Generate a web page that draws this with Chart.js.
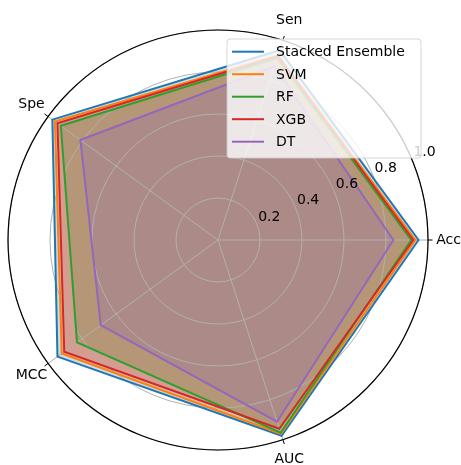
<!DOCTYPE html>
<html>
<head>
<meta charset="utf-8">
<script src="https://cdn.jsdelivr.net/npm/chart.js@4/dist/chart.umd.min.js"></script>
<style>
  html, body { margin: 0; padding: 0; background: #ffffff; }
  #wrap { width: 461px; height: 465px; }
</style>
</head>
<body>
<div id="wrap"><canvas id="c" width="461" height="465"></canvas></div>
<script>
// Evaluation metrics, counter-clockwise starting from the right
const metrics = ['Acc', 'Sen', 'Spe', 'MCC', 'AUC'];
const models = ['Stacked Ensemble', 'SVM', 'RF', 'XGB', 'DT'];

// Scores per model, in the order of `metrics`
const stackedEnsemble = [0.955, 0.95, 0.975, 0.945, 0.98];
const svm             = [0.94, 0.925, 0.96, 0.92, 0.97];
const rf              = [0.92, 0.91, 0.925, 0.83, 0.965];
const xgb             = [0.93, 0.92, 0.945, 0.905, 0.945];
const dt              = [0.835, 0.87, 0.81, 0.69, 0.91];

const radialTicks = [0.2, 0.4, 0.6, 0.8, 1.0];
const tickLabels = ['0.2', '0.4', '0.6', '0.8', '1.0'];

const seriesValues = [stackedEnsemble, svm, rf, xgb, dt];
const palette = ['#1f77b4', '#ff7f0e', '#2ca02c', '#d62728', '#9467bd'];

// Chart.js walks the axes clockwise; metrics go counter-clockwise,
// so keep the first one and reverse the rest.
const axisOrder = [0, 4, 3, 2, 1];
const reorder = arr => axisOrder.map(i => arr[i]);

function hexA(hex, a) {
  const n = parseInt(hex.slice(1), 16);
  return `rgba(${(n >> 16) & 255},${(n >> 8) & 255},${n & 255},${a})`;
}

// Later models are painted on top, so feed them to Chart.js first.
const datasets = models.map((name, k) => ({
  label: name,
  data: reorder(seriesValues[k]),
  borderColor: palette[k],
  backgroundColor: hexA(palette[k], 0.25),
  borderWidth: 2,
  pointRadius: 0,
  pointHoverRadius: 0,
  fill: true,
  tension: 0,
  borderJoinStyle: 'miter'
})).reverse();

const FONT = '14px "DejaVu Sans", sans-serif';

const polarDecor = {
  id: 'polarDecor',
  beforeDatasetsDraw(chart) {
    // grid sits above the filled areas but below the outlines
    const s = chart.scales.r;
    const ctx = chart.ctx;
    ctx.save();
    ctx.strokeStyle = '#b0b0b0';
    ctx.lineWidth = 1;
    radialTicks.forEach(v => {
      const r = s.getDistanceFromCenterForValue(v);
      ctx.beginPath();
      ctx.arc(s.xCenter, s.yCenter, r, 0, Math.PI * 2);
      ctx.stroke();
    });
    for (let i = 0; i < metrics.length; i++) {
      const p = s.getPointPositionForValue(i, 1);
      ctx.beginPath();
      ctx.moveTo(s.xCenter, s.yCenter);
      ctx.lineTo(p.x, p.y);
      ctx.stroke();
    }
    ctx.restore();
  },
  afterDatasetsDraw(chart) {
    const s = chart.scales.r;
    const ctx = chart.ctx;
    const R = s.getDistanceFromCenterForValue(1);
    const labels = chart.data.labels;
    ctx.save();

    // outer spine
    ctx.strokeStyle = '#000000';
    ctx.lineWidth = 1.2;
    ctx.beginPath();
    ctx.arc(s.xCenter, s.yCenter, R, 0, Math.PI * 2);
    ctx.stroke();

    // angular tick marks and metric names
    ctx.font = FONT;
    ctx.fillStyle = '#000000';
    ctx.textAlign = 'center';
    ctx.textBaseline = 'middle';
    for (let i = 0; i < labels.length; i++) {
      const a = s.getIndexAngle(i) - Math.PI / 2;
      const c = Math.cos(a), sn = Math.sin(a);
      ctx.lineWidth = 1;
      ctx.beginPath();
      ctx.moveTo(s.xCenter + c * R, s.yCenter + sn * R);
      ctx.lineTo(s.xCenter + c * (R + 4.5), s.yCenter + sn * (R + 4.5));
      ctx.stroke();
      const L = R + 20.5;
      ctx.fillText(labels[i], s.xCenter + c * L, s.yCenter + sn * L);
    }

    // radial tick labels along 22.5 degrees
    const ang = -22.5 * Math.PI / 180;
    radialTicks.forEach((v, k) => {
      const r = s.getDistanceFromCenterForValue(v);
      const x = s.xCenter + Math.cos(ang) * r + 12.5;
      const y = s.yCenter + Math.sin(ang) * r - 7;
      ctx.fillText(tickLabels[k], x, y);
    });

    // legend box
    const bx = 227, by = 39, bw = 194, bh = 119, rad = 3;
    ctx.beginPath();
    ctx.moveTo(bx + rad, by);
    ctx.arcTo(bx + bw, by, bx + bw, by + bh, rad);
    ctx.arcTo(bx + bw, by + bh, bx, by + bh, rad);
    ctx.arcTo(bx, by + bh, bx, by, rad);
    ctx.arcTo(bx, by, bx + bw, by, rad);
    ctx.closePath();
    ctx.fillStyle = 'rgba(255,255,255,0.8)';
    ctx.fill();
    ctx.strokeStyle = 'rgba(204,204,204,0.8)';
    ctx.lineWidth = 1;
    ctx.stroke();

    ctx.textAlign = 'left';
    models.forEach((name, k) => {
      const y = 51.7 + k * 22.5;
      ctx.strokeStyle = palette[k];
      ctx.lineWidth = 2;
      ctx.beginPath();
      ctx.moveTo(232, y);
      ctx.lineTo(264, y);
      ctx.stroke();
      ctx.fillStyle = '#000000';
      ctx.fillText(name, 276, y + 1);
    });
    ctx.restore();
  }
};

new Chart(document.getElementById('c'), {
  type: 'radar',
  data: { labels: reorder(metrics), datasets },
  options: {
    responsive: false,
    animation: false,
    devicePixelRatio: 1,
    layout: { padding: { left: 8, right: 33, top: 30, bottom: 15 } },
    plugins: {
      legend: { display: false },
      tooltip: { enabled: false },
      filler: { drawTime: 'beforeDatasetsDraw', propagate: false }
    },
    elements: { line: { borderJoinStyle: 'miter' } },
    scales: {
      r: {
        min: 0,
        max: 1,
        startAngle: 90,
        ticks: { display: false, stepSize: 0.2 },
        grid: { display: false },
        angleLines: { display: false },
        pointLabels: { display: false }
      }
    }
  },
  plugins: [polarDecor]
});
</script>
</body>
</html>
